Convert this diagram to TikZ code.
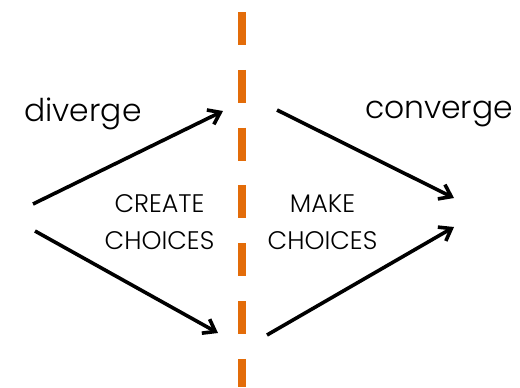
\documentclass[tikz,border=0pt]{standalone}
\usepackage{fontspec}
\setmainfont{Poppins}[UprightFont=* Light]
\usepackage{xcolor}
\usetikzlibrary{arrows.meta}

\definecolor{splitorange}{HTML}{E36C09}

\tikzset{
  flow/.style={line width=3.6bp,-{Straight Barb[length=11bp,width=16bp,line width=3.6bp]}},
  bigword/.style={font=\fontsize{31.5}{36}\selectfont,anchor=base,inner sep=0pt},
  phase/.style={font=\fontsize{25.5}{37}\selectfont,align=center,inner sep=0pt}
}

\begin{document}
\begin{tikzpicture}[x=1bp,y=-1bp]
\useasboundingbox (0,0) rectangle (520,387);
% the split
\draw[splitorange,line width=8.5bp,dash pattern=on 33bp off 24.8bp] (241.8,12) coordinate(splittop) -- (241.8,387) coordinate(splitbot);
% words
\draw (83,121) node[bigword](diverge) {diverge};
\draw (439,118) node[bigword](converge) {converge};
\draw (159.5,222.5) node[phase](create) {CREATE\\CHOICES};
\draw (322.5,222.5) node[phase](make) {MAKE\\CHOICES};
% arrow ends
\coordinate (divtailA) at (33,204);
\coordinate (divtipA) at (223,111);
\coordinate (divtailB) at (35,231);
\coordinate (divtipB) at (218,333);
\coordinate (contailA) at (277,110);
\coordinate (contipA) at (454,198);
\coordinate (contailB) at (267,335);
\coordinate (contipB) at (454,227);
\draw[flow] (divtailA) -- (divtipA);
\draw[flow] (divtailB) -- (divtipB);
\draw[flow] (contailA) -- (contipA);
\draw[flow] (contailB) -- (contipB);
\end{tikzpicture}
\end{document}
